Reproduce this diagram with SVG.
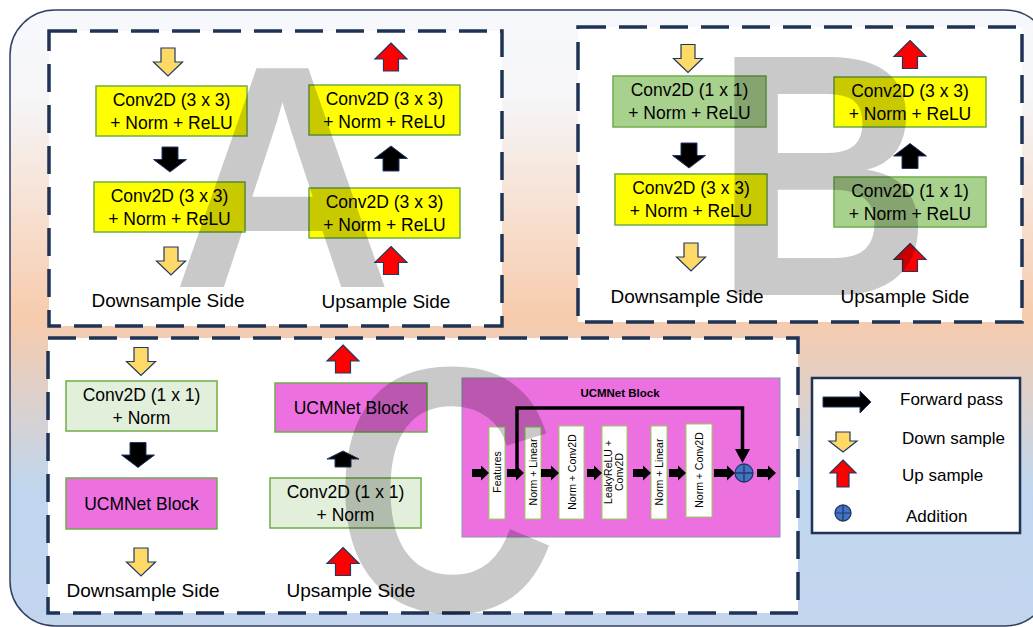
<svg xmlns="http://www.w3.org/2000/svg" xmlns:xlink="http://www.w3.org/1999/xlink" width="1033" height="627" viewBox="0 0 1033 627">
<defs>
<linearGradient id="bg" x1="0" y1="0" x2="0" y2="1">
<stop offset="0" stop-color="#f6f8fc"/>
<stop offset="0.14" stop-color="#f6f6f8"/>
<stop offset="0.5" stop-color="#f7cbad"/>
<stop offset="0.78" stop-color="#bfd6ee"/>
<stop offset="1" stop-color="#c4d5ee"/>
</linearGradient>
<path id="dn" d="M-7,-14H7V0H14.5L0,14L-14.5,0H-7Z"/>
<path id="up" d="M0,-14L16,2H7.5V14H-7.5V2H-16Z"/>
<path id="bdn" d="M-8,-12.5H8V0H16.5L0,12.5L-16.5,0H-8Z"/>
<path id="bup" d="M0,-12.5L16.5,0H8V12.5H-8V0H-16.5Z"/>
</defs>
<style>
.panel{fill:#fff;stroke:#1f3354;stroke-width:3.5;stroke-dasharray:28 13}
.yb{fill:#ffff00;stroke:#70ad47;stroke-width:1.5}
.gb{fill:#a9d18e;stroke:#70ad47;stroke-width:1.5}
.lg{fill:#e2efda;stroke:#70ad47;stroke-width:1.5}
.mb{fill:#ec70e0;stroke:#70ad47;stroke-width:1.5}
.wb{fill:#fff;stroke:#8fd14f;stroke-width:1}
.t{font-family:"Liberation Sans",Arial,sans-serif;font-size:17.5px;text-anchor:middle;fill:#000}
.lbl{font-family:"Liberation Sans",Arial,sans-serif;font-size:19px;text-anchor:middle;fill:#000}
.lt{font-family:"Liberation Sans",Arial,sans-serif;font-size:17px;fill:#000}
.rt{font-family:"Liberation Sans",Arial,sans-serif;font-size:10.5px;text-anchor:middle;fill:#000}
.ya{fill:#ffd966;stroke:#203864;stroke-width:1.2}
.ra{fill:#ff0000;stroke:#203864;stroke-width:1.2}
.ka{fill:#000;stroke:#203864;stroke-width:1}
.big{font-family:"Liberation Sans",Arial,sans-serif;font-weight:bold;fill:#000;fill-opacity:0.21;text-anchor:middle}
.add{fill:#4472c4;stroke:#203864;stroke-width:1.3}
</style>

<rect x="10" y="10" width="1040" height="616" rx="45" fill="url(#bg)" stroke="#2f4060" stroke-width="1.5"/>

<g id="panelA">
<rect class="panel" x="49" y="31" width="453" height="295"/>
<g id="a-conv1"><rect class="yb" x="96" y="86" width="151" height="50"/><text class="t" x="171.5" y="106">Conv2D (3 x 3)</text><text class="t" x="171.5" y="129">+ Norm + ReLU</text></g>
<g id="a-conv2"><rect class="yb" x="94" y="182" width="151" height="50"/><text class="t" x="169.5" y="202">Conv2D (3 x 3)</text><text class="t" x="169.5" y="225">+ Norm + ReLU</text></g>
<g id="a-conv3"><rect class="yb" x="309" y="85" width="151" height="50"/><text class="t" x="384.5" y="105">Conv2D (3 x 3)</text><text class="t" x="384.5" y="128">+ Norm + ReLU</text></g>
<g id="a-conv4"><rect class="yb" x="309" y="188" width="151" height="50"/><text class="t" x="384.5" y="208">Conv2D (3 x 3)</text><text class="t" x="384.5" y="231">+ Norm + ReLU</text></g>
<text class="lbl" x="168" y="307">Downsample Side</text>
<text class="lbl" x="386" y="308">Upsample Side</text>
</g>

<g id="panelB">
<rect class="panel" x="578" y="27" width="444" height="295"/>
<g id="b-conv1"><rect class="gb" x="613" y="76" width="153" height="51"/><text class="t" x="689.5" y="96">Conv2D (1 x 1)</text><text class="t" x="689.5" y="119">+ Norm + ReLU</text></g>
<g id="b-conv2"><rect class="yb" x="615" y="174" width="152" height="51"/><text class="t" x="691" y="194">Conv2D (3 x 3)</text><text class="t" x="691" y="217">+ Norm + ReLU</text></g>
<g id="b-conv3"><rect class="yb" x="834" y="77" width="152" height="50"/><text class="t" x="910" y="97">Conv2D (3 x 3)</text><text class="t" x="910" y="120">+ Norm + ReLU</text></g>
<g id="b-conv4"><rect class="gb" x="834" y="177" width="152" height="50"/><text class="t" x="910" y="197">Conv2D (1 x 1)</text><text class="t" x="910" y="220">+ Norm + ReLU</text></g>
<text class="lbl" x="687" y="303">Downsample Side</text>
<text class="lbl" x="905" y="303">Upsample Side</text>
</g>

<g id="panelC">
<rect class="panel" x="48" y="338" width="750" height="275"/>
<g id="c-conv1"><rect class="lg" x="66" y="381" width="151" height="50"/><text class="t" x="141.5" y="401">Conv2D (1 x 1)</text><text class="t" x="141.5" y="424">+ Norm</text></g>
<g id="c-ucm1"><rect class="mb" x="66" y="478" width="151" height="51"/><text class="t" x="141.5" y="510">UCMNet Block</text></g>
<g id="c-ucm2"><rect class="mb" x="275" y="383" width="152" height="49"/><text class="t" x="351" y="414">UCMNet Block</text></g>
<g id="c-conv2"><rect class="lg" x="270" y="478" width="151" height="50"/><text class="t" x="345.5" y="498">Conv2D (1 x 1)</text><text class="t" x="345.5" y="521">+ Norm</text></g>
<text class="lbl" x="143" y="597">Downsample Side</text>
<text class="lbl" x="351" y="597">Upsample Side</text>
</g>

<g id="ucmnet-detail">
<rect x="462" y="378" width="318" height="159" fill="#ec70e0" stroke="#8497b0" stroke-width="1"/>
<text x="620" y="397" font-family="Liberation Sans,Arial,sans-serif" font-size="11.5" font-weight="bold" text-anchor="middle">UCMNet Block</text>
<g id="u-features"><rect class="wb" x="489" y="427" width="16" height="92"/><text class="rt" transform="translate(501,472) rotate(-90)">Features</text></g>
<g id="u-normlin1"><rect class="wb" x="525" y="427" width="16" height="92"/><text class="rt" transform="translate(537,472) rotate(-90)">Norm + Linear</text></g>
<g id="u-normconv1"><rect class="wb" x="559" y="426" width="25" height="93"/><text class="rt" transform="translate(576,472) rotate(-90)">Norm + Conv2D</text></g>
<g id="u-leaky"><rect class="wb" x="602" y="426" width="25" height="93"/><text class="rt" transform="translate(612,472) rotate(-90)">LeakyReLU +</text><text class="rt" transform="translate(623,472) rotate(-90)">Conv2D</text></g>
<g id="u-normlin2"><rect class="wb" x="651" y="426" width="16" height="93"/><text class="rt" transform="translate(663,472) rotate(-90)">Norm + Linear</text></g>
<g id="u-normconv2"><rect class="wb" x="686" y="424" width="26" height="93"/><text class="rt" transform="translate(703,470) rotate(-90)">Norm + Conv2D</text></g>
<g id="u-add"><circle class="add" cx="744" cy="473" r="9"/><path d="M735,473H753M744,464V482" stroke="#203864" stroke-width="1.3"/></g>
</g>

<g id="legend">
<rect x="812" y="378" width="208" height="155" fill="#fff" stroke="#1f3354" stroke-width="2.5"/>
<path d="M823,397H860V391L871,402L860,413V407H823Z" class="ka"/>
<text class="lt" x="900" y="405">Forward pass</text>
<path d="M836,432H850V441H857L843,452L829,441H836Z" class="ya"/>
<text class="lt" x="902" y="444">Down sample</text>
<path d="M843,460L856,473H849V487H837V473H830Z" class="ra"/>
<text class="lt" x="902" y="481">Up sample</text>
<circle class="add" cx="843" cy="513" r="8"/><path d="M835,513H851M843,505V521" stroke="#203864" stroke-width="1.2"/>
<text class="lt" x="906" y="522">Addition</text>
</g>

<g id="connectors">
<use href="#dn" class="ya" x="168" y="62"/>
<use href="#bdn" class="ka" x="170" y="159.5"/>
<use href="#dn" class="ya" x="171" y="261"/>
<use href="#up" class="ra" x="391" y="57"/>
<use href="#bup" class="ka" x="391" y="158.5"/>
<use href="#up" class="ra" x="391" y="260.5"/>

<use href="#dn" class="ya" x="688" y="58.5"/>
<use href="#bdn" class="ka" x="689" y="155.5"/>
<use href="#dn" class="ya" x="691" y="257"/>
<use href="#up" class="ra" x="910" y="54.5"/>
<use href="#bup" class="ka" x="910" y="156"/>
<use href="#up" class="ra" x="910" y="257.5"/>

<use href="#dn" class="ya" x="141" y="361.5"/>
<use href="#bdn" class="ka" x="138" y="455"/>
<use href="#dn" class="ya" x="141" y="562"/>
<use href="#up" class="ra" x="343" y="359"/>
<path class="ka" d="M343,451L359,459H351V467H335V459H327Z"/>
<use href="#up" class="ra" x="343" y="561.5"/>

<g fill="#000">
<path d="M472,469H481V465.5L489,473L481,480.5V477H472Z"/>
<path d="M507,469H516V465.5L524,473L516,480.5V477H507Z"/>
<path d="M541,469H551V465.5L559,473L551,480.5V477H541Z"/>
<path d="M587,469H594V465.5L602,473L594,480.5V477H587Z"/>
<path d="M633,469H643V465.5L651,473L643,480.5V477H633Z"/>
<path d="M669,469H678V465.5L686,473L678,480.5V477H669Z"/>
<path d="M714,469H727V465.5L735,473L727,480.5V477H714Z"/>
<path d="M757,469H768V465.5L776,473L768,480.5V477H757Z"/>
<path d="M517,473V408H742.5V450" fill="none" stroke="#000" stroke-width="3.5"/>
<path d="M735,449H750L742.5,463Z"/>
</g>
</g>

<g id="watermarks">
<text class="big" font-size="318" transform="translate(282.5,287) scale(0.96,1)">A</text>
<text class="big" font-size="346" transform="translate(823,295) scale(0.87,1)">B</text>
<text class="big" font-size="350" transform="translate(445,611) scale(0.89,1)">C</text>
</g>
</svg>
